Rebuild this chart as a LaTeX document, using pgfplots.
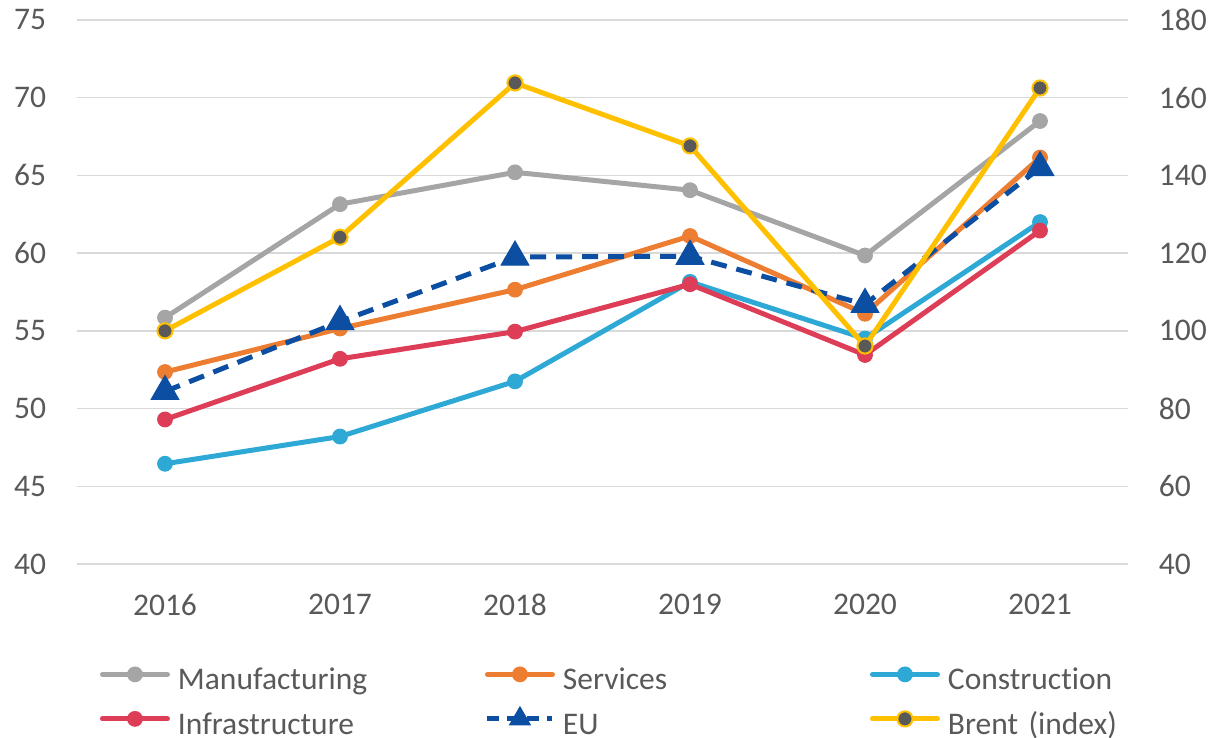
\documentclass[border=0pt]{standalone}
\usepackage{pgfplots}
\pgfplotsset{compat=1.18}
\usepackage{fontspec}
\setmainfont{Carlito}[Ligatures=NoCommon]
\definecolor{manu}{HTML}{A5A5A5}
\definecolor{serv}{HTML}{ED7D31}
\definecolor{cons}{HTML}{2EA9D5}
\definecolor{infra}{HTML}{DD3D56}
\definecolor{eu}{HTML}{0B4EA2}
\definecolor{brent}{HTML}{FFC000}
\definecolor{brentm}{HTML}{595959}
\definecolor{txt}{HTML}{595959}
\definecolor{grd}{HTML}{D9D9D9}
\newcommand{\fs}{\fontsize{15.75}{18}\selectfont}
\begin{document}
\begin{tikzpicture}[x=1pt,y=1pt]
\useasboundingbox (-38.75,-87) rectangle (565.75,282);
\pgfplotsset{
  common/.style={
    at={(0pt,0pt)}, anchor=south west,
    scale only axis, width=525pt, height=272pt,
    xmin=-0.5, xmax=5.5, xtick={0,1,2,3,4,5},
    axis line style={draw=none}, major tick length=0pt,
    tick label style={font=\fs, text=txt},
    /pgf/number format/assume math mode=true,
    clip=false,
  },
  ser/.style={line width=2.5pt, line cap=round, line join=round, color=#1,
    mark=*, mark size=3.7pt, mark options={solid, fill=#1, draw=#1, line width=0.5pt}},
  legend image code/.code={\draw[mark repeat=2,mark phase=2,#1] plot coordinates {(1.25pt,5.5pt) (17.5pt,5.5pt) (33.75pt,5.5pt)};},
}
\begin{axis}[common,
  ymin=40, ymax=75, ytick={40,45,...,75},
  ymajorgrids, grid style={grd, line width=0.75pt},
  xticklabels={2016,2017,2018,2019,2020,2021},
  xticklabel style={anchor=north, inner sep=0pt, yshift=-15pt},
  yticklabel style={anchor=east, inner sep=0pt, xshift=-15.5pt},
]
\addplot[ser=manu] coordinates {(0,55.85) (1,63.15) (2,65.2) (3,64.05) (4,59.85) (5,68.5)};
\addplot[ser=serv] coordinates {(0,52.35) (1,55.15) (2,57.65) (3,61.1) (4,56.1) (5,66.15)};
\addplot[ser=cons] coordinates {(0,46.45) (1,48.2) (2,51.75) (3,58.15) (4,54.5) (5,62.0)};
\addplot[ser=infra] coordinates {(0,49.3) (1,53.2) (2,54.95) (3,58.0) (4,53.45) (5,61.45)};
\addplot[line width=2.5pt, color=eu, dash pattern=on 8pt off 5pt,
  mark=triangle*, mark size=8pt, mark options={solid, fill=eu, draw=eu, line width=0.5pt}]
  coordinates {(0,51.1) (1,55.6) (2,59.75) (3,59.8) (4,56.7) (5,65.5)};
\end{axis}
\begin{axis}[common,
  ymin=40, ymax=180, ytick={40,60,...,180},
  xticklabels={}, axis x line=none,
  axis y line*=right,
  yticklabel style={anchor=west, inner sep=0pt, xshift=15.5pt},
  legend columns=3,
  legend style={at={(axis description cs:0.0214,-0.1893)}, anchor=north west,
    draw=none, fill=none, inner sep=0pt, outer sep=0pt, row sep=8pt,
    /tikz/every odd column/.append style={column sep=4pt},
    nodes={inner sep=0pt, text height=11pt, text depth=0.5pt, text width=153.5pt,
      align=left, font=\fs, text=txt, yshift=3pt}},
  legend cell align=left,
]
\addlegendimage{ser=manu}
\addlegendentry{Manufacturing}
\addlegendimage{ser=serv}
\addlegendentry{Services}
\addlegendimage{ser=cons}
\addlegendentry{Construction}
\addlegendimage{ser=infra}
\addlegendentry{Infrastructure}
\addlegendimage{line width=2.5pt, color=eu, dash pattern=on 6pt off 4pt,
  mark=triangle*, mark size=6pt, mark options={solid, fill=eu, draw=eu, line width=0.5pt}}
\addlegendentry{EU}
\addplot[line width=2.5pt, line cap=round, line join=round, color=brent,
  mark=*, mark size=3.8pt, mark options={solid, fill=brentm, draw=brent, line width=1pt}]
  coordinates {(0,100) (1,124.1) (2,163.8) (3,147.6) (4,96.1) (5,162.5)};
\addlegendentry{Brent (index)}
\end{axis}
\end{tikzpicture}
\end{document}
